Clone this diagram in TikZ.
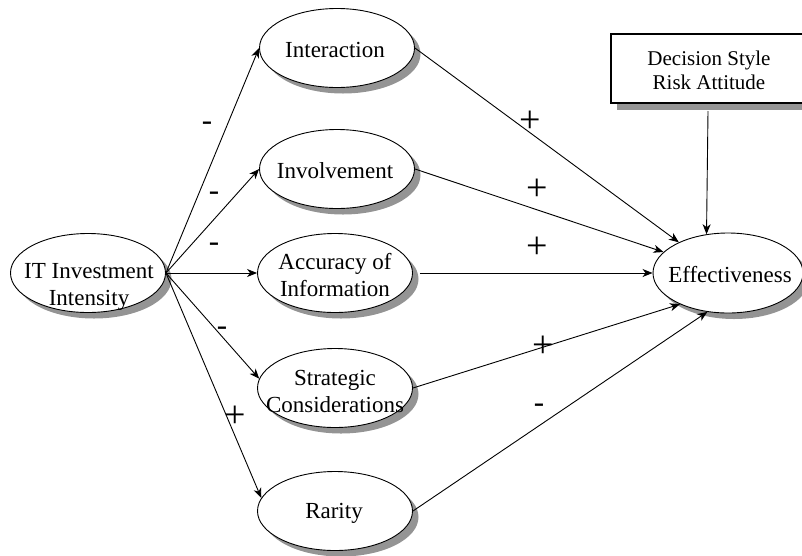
\documentclass[tikz,border=0pt]{standalone}
\usepackage{fontspec}
\setmainfont{Liberation Serif}
\usetikzlibrary{shapes.geometric,shadows,arrows.meta}
\begin{document}
\begin{tikzpicture}[x=1pt,y=-1pt,
  oval/.style={ellipse,draw,line width=0.9pt,fill=white,inner sep=0pt,minimum width=155pt,minimum height=79pt,
    drop shadow={shadow xshift=6pt,shadow yshift=-6pt,fill=black!42,opacity=1}},
  lbl/.style={align=center,font=\fontsize{23}{27}\selectfont,inner sep=0pt},
  sign/.style={font=\fontsize{31}{31}\selectfont,inner sep=0pt},
  plus/.style={font=\fontsize{38}{38}\selectfont,inner sep=0pt},
  arr/.style={line width=0.9pt,-{Stealth[length=10pt,width=8pt,inset=3pt]}},
  ln/.style={line width=0.9pt}]
\useasboundingbox (0,0) rectangle (802,555);
% nodes
\node[oval] (it) at (88,273) {};
\node[lbl] (itT) at (89,287) {IT Investment\\Intensity};
\node[oval] (inter) at (337,48) {};
\node[lbl] (interT) at (335,50) {Interaction};
\node[oval] (inv) at (337,169) {};
\node[lbl] (invT) at (335,171) {Involvement};
\node[oval] (acc) at (335,273) {};
\node[lbl] (accT) at (335,275) {Accuracy of\\Information};
\node[oval] (strat) at (335,388) {};
\node[lbl] (stratT) at (335,391) {Strategic\\Considerations};
\node[oval] (rar) at (335,511) {};
\node[lbl] (rarT) at (334,513) {Rarity};
\node[oval,minimum width=150pt,minimum height=80pt] (eff) at (728,273) {};
\node[lbl] (effT) at (730,275) {Effectiveness};
\node[draw,line width=1.3pt,fill=white,minimum width=214pt,minimum height=69pt,
  drop shadow={shadow xshift=6pt,shadow yshift=-7pt,fill=black!42,opacity=1}] (box) at (718,68.5) {};
\node[align=center,font=\fontsize{21}{24}\selectfont,inner sep=0pt] (boxT) at (709,70)
  {Decision Style\\Risk Attitude};
\coordinate (boxOut) at (708,111);
% left arrows
\draw[arr] (it.east) -- (inter.west);
\draw[arr] (it.east) -- (inv.west);
\draw[arr] (it.east) -- (acc.west);
\draw[arr] (it.east) -- (strat.173);
\draw[arr] (it.east) -- (rar.170);
% right arrows
\draw[arr] (inter.east) -- (eff.148);
\draw[arr] (inv.east) -- (eff.162);
\draw[arr] ([xshift=7pt]acc.east) -- (eff.west);
\draw[arr] (strat.east) -- (eff.213);
\draw[arr] (rar.east) -- (eff.242);
\draw[arr] (boxOut) -- (eff.119);
% signs
\node[sign] (s1) at (207,126) {-};
\node[sign] (s2) at (214,196) {-};
\node[sign] (s3) at (214,247) {-};
\node[sign] (s4) at (222,331) {-};
\node[plus] (s5) at (235,417) {+};
\node[plus] (s6) at (530,122) {+};
\node[plus] (s7) at (537,190) {+};
\node[plus] (s8) at (537,248) {+};
\node[plus] (s9) at (543,347) {+};
\node[sign] (s10) at (539,408) {-};
\end{tikzpicture}
\end{document}
